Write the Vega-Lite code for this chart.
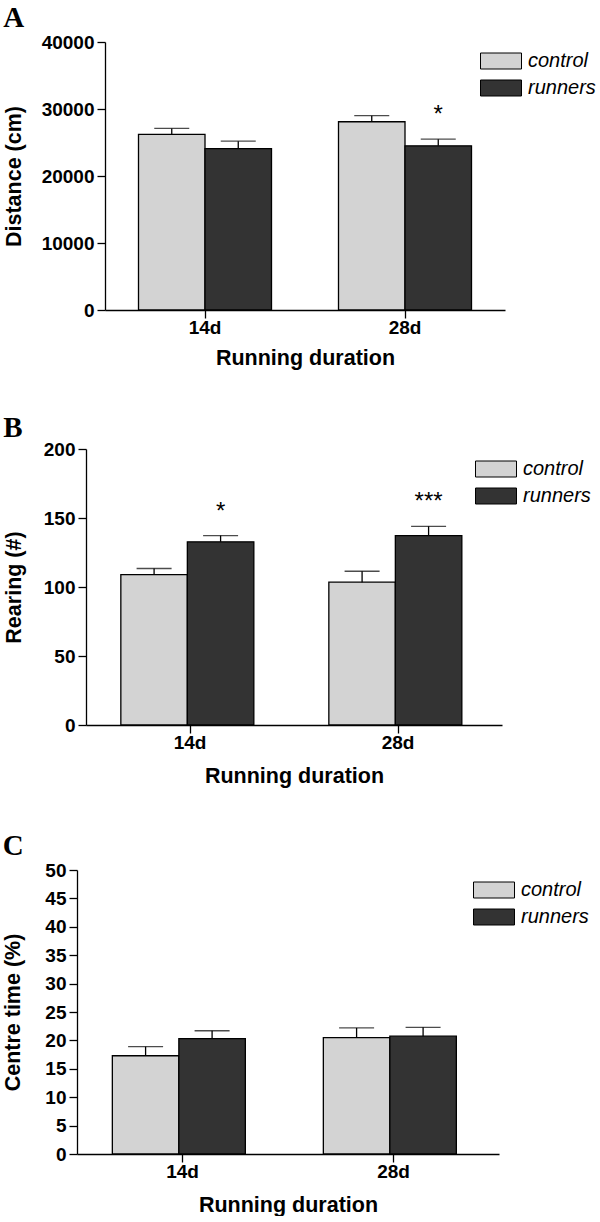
{
  "$schema": "https://vega.github.io/schema/vega-lite/v6.json",
  "padding": {"left": 2, "top": 4, "right": 0, "bottom": 0},
  "background": "white",
  "columns": 1,
  "spacing": 45,
  "align": "none",
  "bounds": "full",
  "resolve": {"scale": {"fill": "independent"}, "legend": {"fill": "independent"}},
  "config": {
    "view": {"stroke": null},
    "axis": {
      "domainColor": "black", "tickColor": "black", "labelColor": "black", "titleColor": "black",
      "labelFont": "Liberation Sans", "titleFont": "Liberation Sans",
      "labelFontWeight": "bold", "titleFontWeight": "bold",
      "labelFontSize": 19, "titleFontSize": 21.5, "labelOverlap": false,
      "tickSize": 8, "grid": false, "domainWidth": 1.3, "tickWidth": 1.3, "labelPadding": 3
    },
    "axisX": {"labelAngle": 0, "labelPadding": 0, "titlePadding": 10},
    "legend": {
      "orient": "none", "title": null, "padding": 0,
      "labelFont": "Liberation Sans", "labelFontStyle": "italic", "labelFontSize": 20, "labelColor": "black",
      "symbolType": "M-2.5625,-1H2.5625V1H-2.5625Z", "symbolSize": 256,
      "symbolStrokeColor": "black", "symbolStrokeWidth": 1, "symbolOpacity": 1,
      "rowPadding": 7, "labelOffset": 17
    },
    "title": {"anchor": "start", "frame": "bounds", "font": "Liberation Serif", "fontSize": 29, "fontWeight": "bold", "color": "black"}
  },
  "concat": [
    {
      "title": {"text": "A", "offset": 0},
      "width": 428, "height": 268,
      "data": {"values": [
        {"duration": "14d", "group": "control", "value": 26200, "err": 27100, "sig": ""},
        {"duration": "14d", "group": "runners", "value": 24100, "err": 25200, "sig": ""},
        {"duration": "28d", "group": "control", "value": 28100, "err": 29000, "sig": ""},
        {"duration": "28d", "group": "runners", "value": 24500, "err": 25500, "sig": "*"}
      ]},
      "encoding": {
        "x": {"field": "duration", "type": "nominal", "scale": {"range": [28, 428], "paddingInner": 0.335, "paddingOuter": 0.1675}, "axis": {"title": "Running duration", "titlePadding": 10}},
        "xOffset": {"field": "group", "type": "nominal", "scale": {"paddingInner": 0, "paddingOuter": 0}}
      },
      "layer": [
        {"mark": {"type": "bar", "stroke": "black", "strokeWidth": 1.3},
         "encoding": {
           "y": {"field": "value", "type": "quantitative", "scale": {"domain": [0, 40000], "nice": false}, "axis": {"values": [0, 10000, 20000, 30000, 40000], "format": "d", "title": "Distance (cm)", "titlePadding": 16, "offset": -28}},
           "fill": {"field": "group", "type": "nominal", "scale": {"domain": ["control", "runners"], "range": ["#d3d3d3", "#333333"]}, "legend": {"legendX": 414, "legendY": 9}}
         }},
        {"mark": {"type": "rule", "color": "black", "strokeWidth": 1.3},
         "encoding": {"y": {"field": "value", "type": "quantitative", "axis": {"values": [0, 10000, 20000, 30000, 40000], "format": "d", "title": "Distance (cm)", "titlePadding": 16, "offset": -28}}, "y2": {"field": "err"}}},
        {"mark": {"type": "tick", "color": "black", "size": 35, "thickness": 1.3},
         "encoding": {"y": {"field": "err", "type": "quantitative", "axis": {"values": [0, 10000, 20000, 30000, 40000], "format": "d", "title": "Distance (cm)", "titlePadding": 16, "offset": -28}}}},
        {"mark": {"type": "text", "font": "Liberation Sans", "fontSize": 24, "dy": -17, "baseline": "alphabetic", "color": "black"},
         "encoding": {"y": {"field": "err", "type": "quantitative", "axis": {"values": [0, 10000, 20000, 30000, 40000], "format": "d", "title": "Distance (cm)", "titlePadding": 16, "offset": -28}}, "text": {"field": "sig"}}}
      ]
    },
    {
      "title": {"text": "B", "offset": -3},
      "width": 425, "height": 276,
      "data": {"values": [
        {"duration": "14d", "group": "control", "value": 109, "err": 113.4, "sig": ""},
        {"duration": "14d", "group": "runners", "value": 132.7, "err": 137.3, "sig": "*"},
        {"duration": "28d", "group": "control", "value": 103.5, "err": 111.4, "sig": ""},
        {"duration": "28d", "group": "runners", "value": 137.3, "err": 144, "sig": "***"}
      ]},
      "encoding": {
        "x": {"field": "duration", "type": "nominal", "scale": {"range": [9, 425], "paddingInner": 0.335, "paddingOuter": 0.1675}, "axis": {"title": "Running duration", "titlePadding": 13}},
        "xOffset": {"field": "group", "type": "nominal", "scale": {"paddingInner": 0, "paddingOuter": 0}}
      },
      "layer": [
        {"mark": {"type": "bar", "stroke": "black", "strokeWidth": 1.3},
         "encoding": {
           "y": {"field": "value", "type": "quantitative", "scale": {"domain": [0, 200], "nice": false}, "axis": {"values": [0, 50, 100, 150, 200], "format": "d", "title": "Rearing (#)", "titlePadding": 18, "offset": -9}},
           "fill": {"field": "group", "type": "nominal", "scale": {"domain": ["control", "runners"], "range": ["#d3d3d3", "#333333"]}, "legend": {"legendX": 409, "legendY": 10}}
         }},
        {"mark": {"type": "rule", "color": "black", "strokeWidth": 1.3},
         "encoding": {"y": {"field": "value", "type": "quantitative", "axis": {"values": [0, 50, 100, 150, 200], "format": "d", "title": "Rearing (#)", "titlePadding": 18, "offset": -9}}, "y2": {"field": "err"}}},
        {"mark": {"type": "tick", "color": "black", "size": 35, "thickness": 1.3},
         "encoding": {"y": {"field": "err", "type": "quantitative", "axis": {"values": [0, 50, 100, 150, 200], "format": "d", "title": "Rearing (#)", "titlePadding": 18, "offset": -9}}}},
        {"mark": {"type": "text", "font": "Liberation Sans", "fontSize": 24, "dy": -17, "baseline": "alphabetic", "color": "black"},
         "encoding": {"y": {"field": "err", "type": "quantitative", "axis": {"values": [0, 50, 100, 150, 200], "format": "d", "title": "Rearing (#)", "titlePadding": 18, "offset": -9}}, "text": {"field": "sig"}}}
      ]
    },
    {
      "title": {"text": "C", "offset": 0},
      "width": 422, "height": 284,
      "data": {"values": [
        {"duration": "14d", "group": "control", "value": 17.3, "err": 18.9, "sig": ""},
        {"duration": "14d", "group": "runners", "value": 20.3, "err": 21.7, "sig": ""},
        {"duration": "28d", "group": "control", "value": 20.5, "err": 22.2, "sig": ""},
        {"duration": "28d", "group": "runners", "value": 20.75, "err": 22.3, "sig": ""}
      ]},
      "encoding": {
        "x": {"field": "duration", "type": "nominal", "scale": {"range": [0, 422], "paddingInner": 0.335, "paddingOuter": 0.1675}, "axis": {"title": "Running duration", "titlePadding": 13}},
        "xOffset": {"field": "group", "type": "nominal", "scale": {"paddingInner": 0, "paddingOuter": 0}}
      },
      "layer": [
        {"mark": {"type": "bar", "stroke": "black", "strokeWidth": 1.3},
         "encoding": {
           "y": {"field": "value", "type": "quantitative", "scale": {"domain": [0, 50], "nice": false}, "axis": {"values": [0, 5, 10, 15, 20, 25, 30, 35, 40, 45, 50], "format": "d", "title": "Centre time (%)", "titlePadding": 20}},
           "fill": {"field": "group", "type": "nominal", "scale": {"domain": ["control", "runners"], "range": ["#d3d3d3", "#333333"]}, "legend": {"legendX": 407, "legendY": 10}}
         }},
        {"mark": {"type": "rule", "color": "black", "strokeWidth": 1.3},
         "encoding": {"y": {"field": "value", "type": "quantitative", "axis": {"values": [0, 5, 10, 15, 20, 25, 30, 35, 40, 45, 50], "format": "d", "title": "Centre time (%)", "titlePadding": 20}}, "y2": {"field": "err"}}},
        {"mark": {"type": "tick", "color": "black", "size": 35, "thickness": 1.3},
         "encoding": {"y": {"field": "err", "type": "quantitative", "axis": {"values": [0, 5, 10, 15, 20, 25, 30, 35, 40, 45, 50], "format": "d", "title": "Centre time (%)", "titlePadding": 20}}}}
      ]
    }
  ]
}
